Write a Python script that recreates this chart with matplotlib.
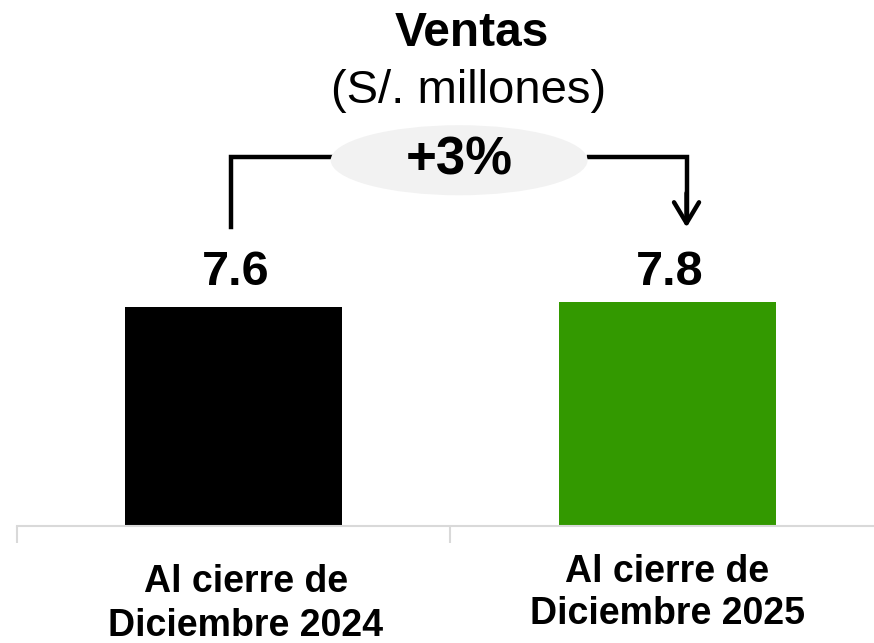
import matplotlib
matplotlib.use("Agg")
import matplotlib.pyplot as plt
from matplotlib.patches import Ellipse
import matplotlib.transforms as mtransforms

categories = ["Al cierre de\nDiciembre 2024", "Al cierre de\nDiciembre 2025"]
values = [7.6, 7.8]
value_labels = ["7.6", "7.8"]
colors = ["#000000", "#339900"]
growth_label = "+3%"
title = "Ventas"
subtitle = "(S/. millones)"

plt.rcParams["font.family"] = ["Liberation Sans", "DejaVu Sans"]

W, H = 874, 643
fig = plt.figure(figsize=(W / 100, H / 100), dpi=100)
ax_left = 16.5 / W
ax_bottom = (H - 525.5) / H
ax = fig.add_axes([ax_left, ax_bottom, 1 - ax_left, 1 - ax_bottom])

x = list(range(len(categories)))
ax.bar(x, values, width=0.5, color=colors, zorder=2)
ax.set_xlim(-0.5, 1.476)
ax.set_ylim(0, 18.3)

for s in ["top", "right", "left"]:
    ax.spines[s].set_visible(False)
ax.spines["bottom"].set_color("#d9d9d9")
ax.spines["bottom"].set_linewidth(1.5)
ax.set_yticks([])
ax.set_xticks([])
ax.set_xticks([-0.5, 0.5], minor=True)
ax.tick_params(axis="x", which="minor", length=12, width=1.5, color="#d9d9d9",
               labelbottom=False)

# value labels
label_level = max(values) + 1.0
for xi, v, lab in zip(x, values, value_labels):
    ax.text(xi + 0.005, label_level, lab, ha="center", va="center", fontsize=35,
            fontweight="bold")

# category labels
trans = mtransforms.blended_transform_factory(ax.transData, fig.transFigure)
label_x = [0.028, 0.0]
label_y = [(H - 604) / H, (H - 593) / H]
label_ls = [1.3, 1.2]
for xi, cat, dx, ly, ls in zip(x, categories, label_x, label_y, label_ls):
    ax.text(xi + dx, ly, cat, transform=trans, ha="center", va="center",
            fontsize=27, fontweight="bold", linespacing=ls, clip_on=False)

# bracket with growth
y_bot = 10.38
y_top = 12.82
x_l = -0.005
x_r = 1.044
ax.plot([x_l, x_l, 0.225], [y_bot, y_top, y_top], color="black", lw=3.2,
        solid_joinstyle="miter", clip_on=False, zorder=3)
ax.plot([0.82, x_r, x_r], [y_top, y_top, y_bot + 0.3], color="black", lw=3.2,
        solid_joinstyle="miter", clip_on=False, zorder=3)
ax.annotate("", xy=(x_r, y_bot), xytext=(x_r, y_bot + 1.2),
            arrowprops=dict(arrowstyle="->,head_length=1.5,head_width=0.9",
                            color="black", lw=3.2, shrinkA=0, shrinkB=0),
            annotation_clip=False)
ell = Ellipse((0.52, 12.72), width=0.592, height=2.44, facecolor="#f2f2f2",
              edgecolor="none", zorder=4, clip_on=False)
ax.add_patch(ell)
ax.text(0.52, 12.72, growth_label, ha="center", va="center", fontsize=38,
        fontweight="bold", zorder=5)

fig.text(472 / W, 1 - 33 / H, title, ha="center", va="center", fontsize=34.5,
         fontweight="bold")
fig.text(469 / W, 1 - 91 / H, subtitle, ha="center", va="center", fontsize=34)

fig.savefig("out.png", dpi=100)
